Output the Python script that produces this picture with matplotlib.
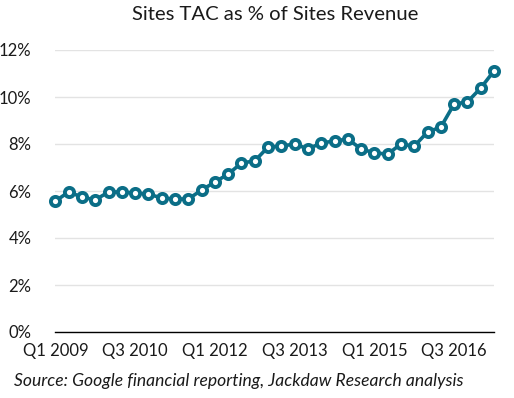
import numpy as np
from matplotlib import pyplot as plt

# Sites TAC as % of Sites Revenue, Q1 2009 .. Q2 2017
tac_pct = [5.57, 5.96, 5.74, 5.62, 5.96, 5.96, 5.91, 5.87, 5.70, 5.66,
           5.66, 6.04, 6.38, 6.72, 7.19, 7.28, 7.87, 7.91, 8.00, 7.79,
           8.04, 8.13, 8.21, 7.79, 7.62, 7.57, 8.00, 7.91, 8.51, 8.72,
           9.70, 9.79, 10.38, 11.11]
tick_pos = [0, 6, 12, 18, 24, 30]
tick_labels = ['Q1 2009', 'Q3 2010', 'Q1 2012', 'Q3 2013', 'Q1 2015', 'Q3 2016']
y_ticks = [0, 2, 4, 6, 8, 10, 12]

plt.rcParams['font.family'] = ['Lato', 'DejaVu Sans']
teal = '#0b6e87'

fig = plt.figure(figsize=(5.14, 3.98), dpi=100)
ax = fig.add_axes([55 / 514, 66 / 398, 439 / 514, 282 / 398])

x = np.arange(len(tac_pct))
ax.plot(x, tac_pct, color=teal, lw=2.6, marker='o', ms=6.6,
        mew=2.8, mfc='white', mec=teal, zorder=3, clip_on=False)

ax.set_xlim(-0.03, 33.0)
ax.set_ylim(0, 12)
ax.set_yticks(y_ticks)
ax.set_yticklabels([str(v) + '%' for v in y_ticks])
ax.set_xticks(tick_pos)
ax.set_xticklabels(tick_labels)
ax.grid(axis='y', color='#e3e3e3', lw=1)
ax.set_axisbelow(True)
for s in ['top', 'right', 'left']:
    ax.spines[s].set_visible(False)
ax.spines['bottom'].set_color('black')
ax.spines['bottom'].set_linewidth(1)
ax.tick_params(axis='both', length=0, labelsize=12, colors='#1a1a1a')
ax.tick_params(axis='y', pad=17)
ax.tick_params(axis='x', pad=8)

fig.text(275 / 514, 1 - 15 / 398, 'Sites TAC as % of Sites Revenue',
         ha='center', va='center', fontsize=14.6, color='#1a1a1a')
fig.text(14 / 514, 1 - 381 / 398,
         'Source: Google financial reporting, Jackdaw Research analysis',
         ha='left', va='center', fontsize=12.6, style='italic', color='#1a1a1a')

fig.savefig('out.png', dpi=100)
